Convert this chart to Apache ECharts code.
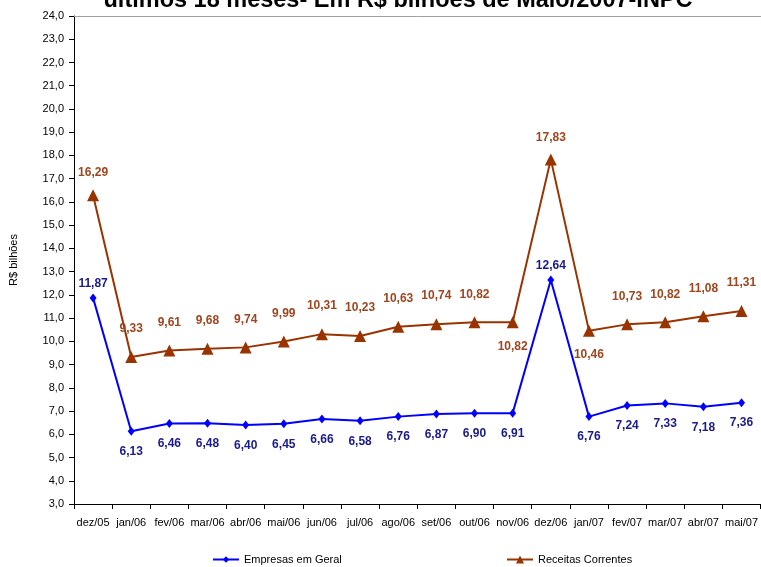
<!DOCTYPE html>
<html>
<head>
<meta charset="utf-8">
<script src="https://cdn.jsdelivr.net/npm/echarts@6/dist/echarts.min.js"></script>
<style>
  html, body { margin: 0; padding: 0; background: #fff; }
  #chart { width: 761px; height: 567px; }
</style>
</head>
<body>
<div id="chart"></div>
<script>
// meses
var categories = ['dez/05', 'jan/06', 'fev/06', 'mar/06', 'abr/06', 'mai/06', 'jun/06', 'jul/06', 'ago/06',
    'set/06', 'out/06', 'nov/06', 'dez/06', 'jan/07', 'fev/07', 'mar/07', 'abr/07', 'mai/07'];

var empresas = [11.87, 6.13, 6.46, 6.48, 6.40, 6.45, 6.66, 6.58, 6.76, 6.87, 6.90, 6.91, 12.64, 6.76, 7.24, 7.33, 7.18, 7.36];
var receitas = [16.29, 9.33, 9.61, 9.68, 9.74, 9.99, 10.31, 10.23, 10.63, 10.74, 10.82, 10.82, 17.83, 10.46, 10.73, 10.82, 11.08, 11.31];

var fmt = function (v) { return v.toFixed(2).replace('.', ','); };

var chart = echarts.init(document.getElementById('chart'));

// blue labels go below except the two peaks, brown ones above except nov/06 and jan/07
var empresasData = empresas.map(function (v, i) {
    var up = (i === 0 || i === 12);
    return { value: v, label: { position: up ? 'top' : 'bottom', distance: up ? 4 : 10 } };
});
var receitasData = receitas.map(function (v, i) {
    var down = (i === 11 || i === 13);
    var peak = (i === 0 || i === 12);
    return { value: v, label: { position: down ? 'bottom' : 'top', distance: down ? 12 : (peak ? 10 : 16) } };
});

var option = {
    animation: false,
    textStyle: { fontFamily: 'Liberation Sans, Arial, sans-serif' },
    title: {
        text: 'últimos 18 meses- Em R$ bilhões de Maio/2007-INPC',
        left: 393,
        textAlign: 'center',
        top: -16,
        textStyle: { fontSize: 23.5, fontWeight: 'bold', color: '#000' }
    },
    legend: [
        {
            data: ['Empresas em Geral'],
            left: 207, top: 549,
            itemWidth: 26, itemHeight: 8,
            textStyle: { fontSize: 11, color: '#000', letterSpacing: -0.5 }
        },
        {
            data: ['Receitas Correntes'],
            left: 501, top: 549,
            itemWidth: 26, itemHeight: 10,
            textStyle: { fontSize: 11, color: '#000', letterSpacing: -0.5 }
        }
    ],
    grid: { left: 73, right: 0, top: 16, bottom: 63 },
    xAxis: [
        {
            type: 'category',
            data: categories,
            boundaryGap: true,
            axisLine: { lineStyle: { color: '#000', width: 1 } },
            axisTick: { show: true, alignWithLabel: false, length: 5, inside: false, lineStyle: { color: '#000' } },
            axisLabel: { color: '#000', fontSize: 11, margin: 13, interval: 0, letterSpacing: -0.6 }
        },
        {
            type: 'category',
            position: 'top',
            data: categories,
            axisLine: { lineStyle: { color: '#a0a0a0', width: 1 } },
            axisTick: { show: false },
            axisLabel: { show: false }
        }
    ],
    yAxis: {
        type: 'value',
        name: 'R$ bilhões',
        nameLocation: 'middle',
        nameGap: 55,
        nameRotate: 90,
        nameTextStyle: { fontSize: 11, color: '#000' },
        min: 3, max: 24, interval: 1,
        axisLine: { show: true, lineStyle: { color: '#000' } },
        axisTick: { show: true, length: 5, lineStyle: { color: '#000' } },
        axisLabel: {
            color: '#000', fontSize: 11, margin: 10, letterSpacing: -0.6,
            formatter: function (v) { return v.toFixed(1).replace('.', ','); }
        },
        splitLine: { show: false }
    },
    series: [
        {
            name: 'Empresas em Geral',
            type: 'line',
            data: empresasData,
            symbol: 'diamond',
            symbolSize: [7, 9],
            lineStyle: { color: '#0000ff', width: 2 },
            itemStyle: { color: '#0000ff' },
            label: {
                show: true,
                formatter: function (p) { return fmt(p.value); },
                color: '#1a1a8c', fontSize: 12, fontWeight: 'bold', letterSpacing: -0.8
            }
        },
        {
            name: 'Receitas Correntes',
            type: 'line',
            data: receitasData,
            symbol: 'triangle',
            symbolSize: 12,
            lineStyle: { color: '#993300', width: 2 },
            itemStyle: { color: '#993300' },
            label: {
                show: true,
                formatter: function (p) { return fmt(p.value); },
                color: '#a0461e', fontSize: 12, fontWeight: 'bold', letterSpacing: -0.8
            }
        }
    ]
};

chart.setOption(option);
</script>
</body>
</html>
